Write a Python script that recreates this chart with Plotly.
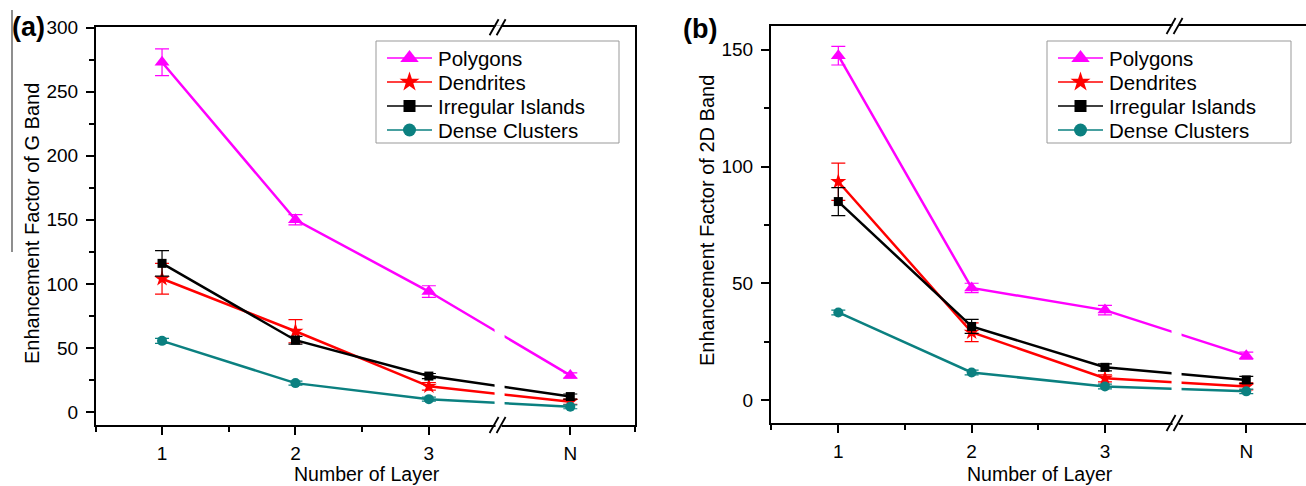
import plotly.graph_objects as go

# ---------------- data ----------------
layers = ["1", "2", "3", "N"]
series_names = ["Polygons", "Dendrites", "Irregular Islands", "Dense Clusters"]

g_polygons = [273, 150, 94, 28.5]
g_polygons_err = [10.5, 4, 4.5, 2]
g_dendrites = [104, 63, 20, 8]
g_dendrites_err = [12, 9, 3, 2]
g_irregular = [116, 56, 28, 12]
g_irregular_err = [10, 3, 2, 2]
g_dense = [55.5, 22.5, 10, 4]
g_dense_err = [2, 1.5, 1.5, 1.5]

d_polygons = [147.5, 48, 38.5, 19]
d_polygons_err = [4, 2, 2, 1.5]
d_dendrites = [93.5, 29, 9.3, 5.8]
d_dendrites_err = [8, 4, 1.5, 1.5]
d_irregular = [85, 31.5, 14, 8.6]
d_irregular_err = [6, 3, 1.5, 1.5]
d_dense = [37.5, 11.8, 5.8, 3.7]
d_dense_err = [1, 1, 1, 1]

# ---------------- styling / layout constants ----------------
x_pos = [1, 2, 3, 4.06]          # axis positions of the categories (N after the break)
colors = ["#FF00FF", "#FF0000", "#000000", "#0B8080"]
symbols = ["triangle-up", "star", "square", "circle"]
msizes = [13, 12, 9, 10]
FONT = "Liberation Sans, Arial, sans-serif"
W, H = 1306, 486

fig = go.Figure()

panels = [
    dict(xa="x", ya="y",
         vals=[g_polygons, g_dendrites, g_irregular, g_dense],
         errs=[g_polygons_err, g_dendrites_err, g_irregular_err, g_dense_err]),
    dict(xa="x2", ya="y2",
         vals=[d_polygons, d_dendrites, d_irregular, d_dense],
         errs=[d_polygons_err, d_dendrites_err, d_irregular_err, d_dense_err]),
]

for p in panels:
    for i, name in enumerate(series_names):
        fig.add_trace(go.Scatter(
            x=x_pos, y=p["vals"][i], name=name, mode="lines+markers",
            xaxis=p["xa"], yaxis=p["ya"], showlegend=False,
            line=dict(color=colors[i], width=2.5),
            marker=dict(symbol=symbols[i], size=msizes[i], color=colors[i],
                        line=dict(width=0)),
            error_y=dict(type="data", array=p["errs"][i], visible=True,
                         color=colors[i], thickness=1.2, width=7),
        ))

def px_x(px):
    return px / W

def px_y(py):
    return 1 - py / H

axis_common = dict(showline=True, linecolor="black", linewidth=2,
                   showgrid=False, zeroline=False, ticks="outside", ticklen=8,
                   tickwidth=2, tickcolor="black",
                   tickfont=dict(family=FONT, size=19, color="black"))

xa_dom = [px_x(96), px_x(635)]
xb_dom = [px_x(771), 1.0]
ya_dom = [px_y(425), px_y(27.3)]
yb_dom = [px_y(423), px_y(26)]

xa_range = [0.505, 4.545]
xb_range = [0.495, 4.508]
ya_range = [-10.2, 300.3]
yb_range = [-9.85, 160.2]

fig.update_layout(
    width=W, height=H, margin=dict(l=0, r=0, t=0, b=0, pad=0, autoexpand=False),
    paper_bgcolor="white", plot_bgcolor="rgba(0,0,0,0)",
    font=dict(family=FONT, color="black"),
    showlegend=False,
    xaxis=dict(domain=xa_dom, range=xa_range, anchor="y", mirror=True,
               tickmode="array", tickvals=x_pos, ticktext=layers,
               minor=dict(tickmode="array", tickvals=[0.507, 1.5, 2.5, 4.543],
                          ticks="outside", ticklen=5, tickwidth=2, tickcolor="black"),
               ticklabelstandoff=2, **axis_common),
    yaxis=dict(domain=ya_dom, range=ya_range, anchor="x", mirror=True,
               tickmode="linear", tick0=0, dtick=50,
               minor=dict(dtick=25, tick0=0, ticks="outside", ticklen=5,
                          tickwidth=2, tickcolor="black"),
               ticklabelstandoff=4, **axis_common),
    xaxis2=dict(domain=xb_dom, range=xb_range, anchor="y2", mirror=True,
                tickmode="array", tickvals=x_pos, ticktext=layers,
                minor=dict(tickmode="array", tickvals=[0.497, 1.5, 2.5],
                           ticks="outside", ticklen=5, tickwidth=2, tickcolor="black"),
                ticklabelstandoff=2, **axis_common),
    yaxis2=dict(domain=yb_dom, range=yb_range, anchor="x2", mirror=False,
                tickmode="linear", tick0=0, dtick=50,
                minor=dict(dtick=25, tick0=0, ticks="outside", ticklen=5,
                           tickwidth=2, tickcolor="black"),
                ticklabelstandoff=4, **axis_common),
    # overlay axes in pixel units, used only for the hand-drawn legends
    xaxis3=dict(domain=[0, 1], range=[0, W], visible=False, fixedrange=True),
    yaxis3=dict(domain=[0, 1], range=[H, 0], visible=False, fixedrange=True),
)

# ---------------- legends (drawn by hand to match spacing) ----------------
legend_boxes = [(376, 41, 619, 143), (1047, 41, 1291, 143)]
ROW0, ROWGAP = 58, 24
shapes = []
ann = []
for (bx0, by0, bx1, by1) in legend_boxes:
    shapes.append(dict(type="rect", xref="paper", yref="paper", layer="below",
                       x0=px_x(bx0), x1=px_x(bx1), y0=px_y(by1), y1=px_y(by0),
                       fillcolor="white", line=dict(color="#999999", width=1)))
    for i, name in enumerate(series_names):
        yy = ROW0 + ROWGAP * i
        fig.add_trace(go.Scatter(
            x=[bx0 + 11, bx0 + 56], y=[yy, yy], mode="lines", xaxis="x3", yaxis="y3",
            showlegend=False, hoverinfo="skip",
            line=dict(color=colors[i], width=1.5)))
        fig.add_trace(go.Scatter(
            x=[bx0 + 33.5], y=[yy], mode="markers", xaxis="x3", yaxis="y3",
            showlegend=False, hoverinfo="skip",
            marker=dict(symbol=symbols[i], size=msizes[i] + 3, color=colors[i],
                        line=dict(width=0))))
        ann.append(dict(text=name, x=px_x(bx0 + 60), y=px_y(yy + 1), xanchor="left",
                        font=dict(size=20.5)))

# ---------------- axis breaks ----------------
breaks = [("x", "y", 3.53, ya_dom, [-8, 80]), ("x2", "y2", 3.537, yb_dom, [-8, 40])]
for xr, yr, bx, ydom, ycover in breaks:
    shapes.append(dict(type="rect", xref=xr, yref=yr, layer="above",
                       xsizemode="pixel", xanchor=bx, x0=-5, x1=5,
                       y0=ycover[0], y1=ycover[1],
                       fillcolor="white", line=dict(width=0)))
    for yd in ydom:
        shapes.append(dict(type="rect", xref=xr, yref="paper", layer="above",
                           xsizemode="pixel", xanchor=bx, x0=-4, x1=2,
                           ysizemode="pixel", yanchor=yd, y0=-2, y1=2,
                           fillcolor="white", line=dict(width=0)))
        for off in (-6, 1):
            shapes.append(dict(type="line", xref=xr, yref="paper", layer="above",
                               xsizemode="pixel", xanchor=bx, x0=off - 4, x1=off + 5,
                               ysizemode="pixel", yanchor=yd, y0=-8, y1=8,
                               line=dict(color="black", width=1.8)))

# stray left border line in the source image
shapes.append(dict(type="line", xref="paper", yref="paper",
                   x0=px_x(12), x1=px_x(12), y0=px_y(10), y1=px_y(252),
                   line=dict(color="#444444", width=1.2)))
fig.update_layout(shapes=shapes)

# ---------------- titles / labels ----------------
ann += [
    dict(text="Enhancement Factor of G Band", x=px_x(32), y=px_y(224), textangle=-90,
         font=dict(size=20)),
    dict(text="Enhancement Factor of 2D Band", x=px_x(707), y=px_y(221), textangle=-90,
         font=dict(size=20)),
    dict(text="Number of Layer", x=px_x(367), y=px_y(474), font=dict(size=19.5)),
    dict(text="Number of Layer", x=px_x(1040), y=px_y(474), font=dict(size=19.5)),
    dict(text="<b>(a)</b>", x=px_x(28), y=px_y(27), font=dict(size=27)),
    dict(text="<b>(b)</b>", x=px_x(700), y=px_y(29), font=dict(size=27)),
]
for a in ann:
    a.setdefault("xanchor", "center")
    a.update(xref="paper", yref="paper", showarrow=False, yanchor="middle")
    a["font"].update(family=FONT, color="black")
    fig.add_annotation(**a)

fig.write_html("out.html")
